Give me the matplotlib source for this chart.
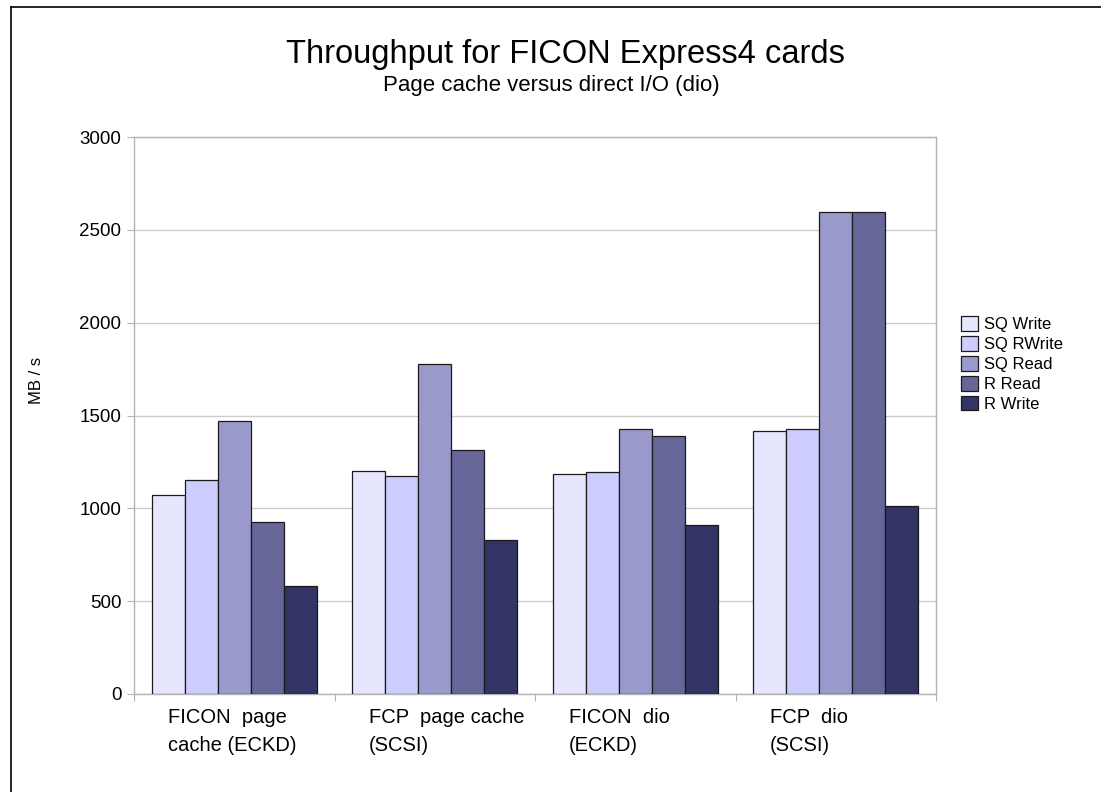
import matplotlib
matplotlib.use("Agg")
import matplotlib.pyplot as plt
import numpy as np
from matplotlib.lines import Line2D

# ── data ────────────────────────────────────────────────────────────
categories = ["FICON  page\ncache (ECKD)", "FCP  page cache\n(SCSI)",
              "FICON  dio\n(ECKD)", "FCP  dio\n(SCSI)"]
series = ["SQ Write", "SQ RWrite", "SQ Read", "R Read", "R Write"]
sq_write = [1072, 1201, 1186, 1418]
sq_rwrite = [1154, 1172, 1195, 1427]
sq_read = [1470, 1777, 1427, 2594]
r_read = [926, 1314, 1391, 2594]
r_write = [582, 828, 908, 1012]
values = [sq_write, sq_rwrite, sq_read, r_read, r_write]

colors = ["#e6e6ff", "#ccccff", "#9999cc", "#666699", "#333366"]
FONT = "Liberation Sans"
plt.rcParams["font.family"] = [FONT, "DejaVu Sans"]

fig = plt.figure(figsize=(11.01, 7.92), dpi=100)
fig.patch.set_facecolor("white")
ax = fig.add_axes([134 / 1101, 1 - 694 / 792, 802 / 1101, 557 / 792])

x = np.arange(len(categories))
bw = 0.165
for i, (name, vals, c) in enumerate(zip(series, values, colors)):
    ax.bar(x + (i - 2) * bw, vals, bw, color=c, edgecolor="#1a1a1a",
           linewidth=0.9, label=name, zorder=3)

ax.set_xlim(-0.5, 3.5)
ax.set_ylim(0, 3000)
ax.set_yticks(range(0, 3001, 500))
ax.yaxis.grid(True, color="#cccccc", lw=1.0, zorder=0)
for s in ax.spines.values():
    s.set_color("#b3b3b3")
    s.set_linewidth(1.0)
ax.tick_params(axis="y", colors="#b3b3b3", labelcolor="black",
               labelsize=13.5, length=5, pad=4)
ax.set_xticks([-0.5, 0.5, 1.5, 2.5, 3.5])
ax.set_xticklabels([])
ax.tick_params(axis="x", colors="#b3b3b3", length=5)

# category labels, left aligned inside each group
for i, lab in enumerate(categories):
    ax.text(i - 0.33, -75, lab, ha="left", va="top", fontsize=14.5,
            linespacing=1.6, transform=ax.transData)

fig.text(37 / 1101, 1 - 380 / 792, "MB / s", rotation=90, ha="center",
         va="center", fontsize=12)

fig.text(565 / 1101, 1 - 55 / 792, "Throughput for FICON Express4 cards",
         ha="center", va="center", fontsize=23.5)
fig.text(551 / 1101, 1 - 86 / 792, "Page cache versus direct I/O (dio)",
         ha="center", va="center", fontsize=16)

fig.legend(loc="center left", bbox_to_anchor=(946 / 1101, 1 - 364 / 792),
           frameon=False, fontsize=12, handlelength=1.0, handleheight=1.0,
           handletextpad=0.35, labelspacing=0.22)

# frame lines (top and left only)
fig.add_artist(Line2D([10.5 / 1101, 10.5 / 1101], [0, 1 - 7 / 792],
                      color="black", lw=1.2))
fig.add_artist(Line2D([10.5 / 1101, 1], [1 - 7 / 792, 1 - 7 / 792],
                      color="black", lw=1.2))

plt.savefig("out.png", dpi=100, facecolor="white")
